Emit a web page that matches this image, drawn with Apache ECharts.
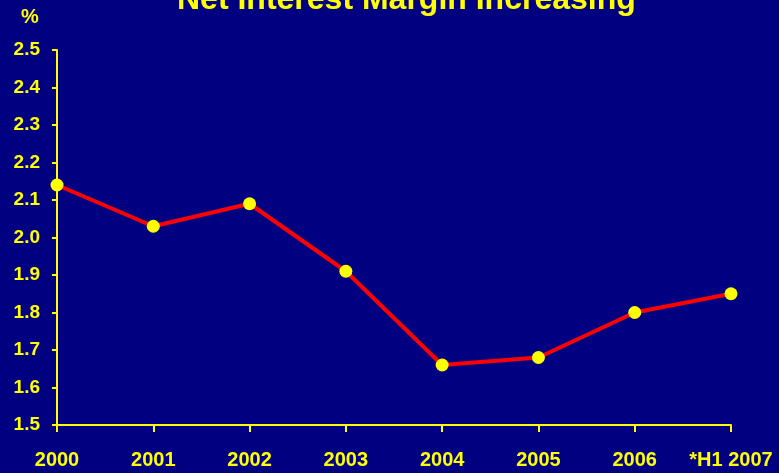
<!DOCTYPE html>
<html>
<head>
<meta charset="utf-8">
<script src="https://cdn.jsdelivr.net/npm/echarts@6/dist/echarts.min.js"></script>
<style>
html,body{margin:0;padding:0;background:#000080;}
#c{width:779px;height:473px;}
</style>
</head>
<body>
<div id="c"></div>
<script>
const titleText = 'Net Interest Margin Increasing';
const unitLabel = '%';
const categories = ['2000', '2001', '2002', '2003', '2004', '2005', '2006', '*H1 2007'];
const marginValues = [2.14, 2.03, 2.09, 1.91, 1.66, 1.68, 1.80, 1.85];
const yMin = 1.5, yMax = 2.5, yStep = 0.1;

const FONT = "'Liberation Sans', Arial, sans-serif";
const YEL = '#FFFF00';
const chart = echarts.init(document.getElementById('c'), null, {renderer: 'canvas'});
chart.setOption({
  backgroundColor: '#000080',
  animation: false,
  title: {
    text: titleText,
    left: 177,
    top: -16,
    padding: 0,
    textStyle: {color: YEL, fontFamily: FONT, fontWeight: 'bold', fontSize: 32}
  },
  graphic: [{
    type: 'text',
    left: 21,
    top: 7,
    style: {text: unitLabel, fill: YEL, font: "bold 20px 'Liberation Sans', Arial, sans-serif"}
  }],
  grid: {left: 57, right: 48, top: 50, bottom: 48, containLabel: false},
  xAxis: {
    type: 'category',
    data: categories,
    boundaryGap: false,
    axisLine: {lineStyle: {color: YEL, width: 2}},
    axisTick: {show: true, length: 7, lineStyle: {color: YEL, width: 2}},
    axisLabel: {color: YEL, fontFamily: FONT, fontWeight: 'bold', fontSize: 20, margin: 25, interval: 0},
    splitLine: {show: false}
  },
  yAxis: {
    type: 'value',
    min: yMin, max: yMax, interval: yStep,
    axisLine: {show: true, lineStyle: {color: YEL, width: 2}},
    axisTick: {show: true, length: 5, lineStyle: {color: YEL, width: 2}},
    axisLabel: {color: YEL, fontFamily: FONT, fontWeight: 'bold', fontSize: 19, margin: 17,
      formatter: v => v.toFixed(1)},
    splitLine: {show: false}
  },
  series: [{
    type: 'line',
    data: marginValues,
    symbol: 'circle',
    symbolSize: 13,
    lineStyle: {color: '#FF0000', width: 4},
    itemStyle: {color: YEL, borderWidth: 0},
    z: 3
  }]
});
</script>
</body>
</html>
